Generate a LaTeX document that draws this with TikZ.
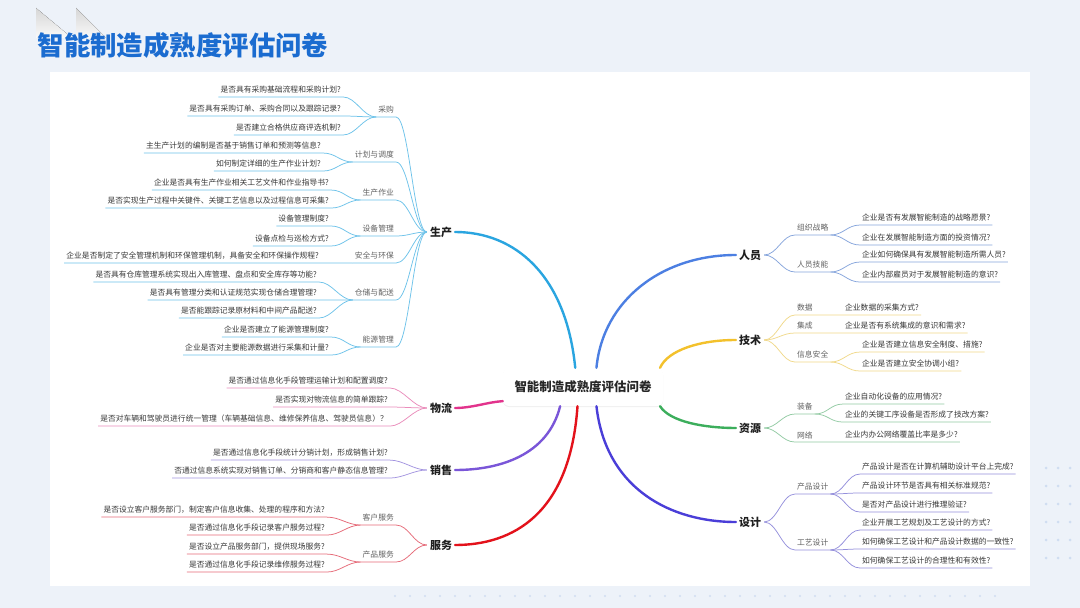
\documentclass[tikz,border=0pt]{standalone}
\usepackage{fontspec}
\newfontfamily\cjk{Noto Sans CJK SC}
\usetikzlibrary{shadows}
\definecolor{bgc}{HTML}{EDF2F9}
\definecolor{ttl}{HTML}{1B6CD0}
\definecolor{dotc}{HTML}{CFDDF1}
\definecolor{cyB}{HTML}{2AA5E0}\definecolor{cyL}{HTML}{6EC3EA}
\definecolor{mgB}{HTML}{E2338C}\definecolor{mgL}{HTML}{EA8DBB}
\definecolor{puB}{HTML}{7A56D8}\definecolor{puL}{HTML}{A394E0}
\definecolor{rdB}{HTML}{E3121B}\definecolor{rdL}{HTML}{E66A78}
\definecolor{blB}{HTML}{4C7FE2}\definecolor{blL}{HTML}{86A5DC}
\definecolor{ywB}{HTML}{F3C12C}\definecolor{ywL}{HTML}{F1D98A}
\definecolor{gnB}{HTML}{3CAE5C}\definecolor{gnL}{HTML}{93CBA4}
\definecolor{inB}{HTML}{4A3ED8}\definecolor{inL}{HTML}{9590DC}

\begin{document}
\begin{tikzpicture}[
  x=1bp, y=-1bp,
  leaf/.style={font=\cjk\fontsize{7.8}{9}\selectfont, text=black!78, inner xsep=2bp, inner ysep=3.2bp},
  sub/.style={leaf, text=black!62},
  topic/.style={font=\cjk\bfseries\fontsize{11}{13}\selectfont, text=black!88, inner sep=3bp},
  root/.style={font=\cjk\bfseries\fontsize{12.5}{15}\selectfont, text=black!85, fill=white,
               rounded corners=6bp, minimum width=160bp, minimum height=38bp,
               drop shadow={opacity=0.12, shadow xshift=0bp, shadow yshift=-1bp}},
  br/.style={line width=2.4pt, line cap=round},
  ln/.style={line width=0.75pt},
  lcv/.style={to path={.. controls +(-13,0) and +(13,0) .. (\tikztotarget)}},
  rcv/.style={to path={.. controls +(13,0) and +(-13,0) .. (\tikztotarget)}}
]
\useasboundingbox (0,0) rectangle (1080,608);
\fill[bgc] (0,0) rectangle (1080,608);
\fill[white] (50,72) rectangle (1030,586);
\fill[top color=black!16, bottom color=black!2] (36,8) -- (72,38) -- (36,38) -- cycle;
\fill[top color=black!16, bottom color=black!2] (76,8) -- (106,38) -- (76,38) -- cycle;
\foreach \i in {0,...,5} \foreach \j in {0,...,2} \fill[dotc] (1046+\j*12,468+\i*18) circle (1.5);
\foreach \i in {0,...,40} \fill[dotc] (395+\i*15,596) circle (1.2);

\node[font=\cjk\bfseries\fontsize{26.5}{30}\selectfont, text=ttl] (title) at (183,45) {智能制造成熟度评估问卷};

\node[root] (ctr) at (583,387) {智能制造成熟度评估问卷};

\node[topic] (pro) at (441,232) {生产};
\node[topic] (wl) at (441,408) {物流};
\node[topic] (xs) at (441,470) {销售};
\node[topic] (fw) at (441,545) {服务};
\node[topic] (ry) at (750,255) {人员};
\node[topic] (js) at (750,340) {技术};
\node[topic] (zyu) at (750,428) {资源};
\node[topic] (sj) at (750,522) {设计};

\node[sub, anchor=east] (cg) at (396,110) {采购};
\node[sub, anchor=east] (jh) at (396,155) {计划与调度};
\node[sub, anchor=east] (zy) at (396,193) {生产作业};
\node[sub, anchor=east] (sb) at (396,229) {设备管理};
\node[sub, anchor=east] (aq) at (396,256) {安全与环保};
\node[sub, anchor=east] (cc) at (396,293) {仓储与配送};
\node[sub, anchor=east] (ny) at (396,340) {能源管理};
\node[sub, anchor=east] (kf) at (396,518) {客户服务};
\node[sub, anchor=east] (cpf) at (396,555) {产品服务};

\node[leaf, anchor=east] (c1) at (343,90) {是否具有采购基础流程和采购计划?};
\node[leaf, anchor=east] (c2) at (343,109) {是否具有采购订单、采购合同以及跟踪记录?};
\node[leaf, anchor=east] (c3) at (343,128) {是否建立合格供应商评选机制?};
\node[leaf, anchor=east] (j1) at (323,146) {主生产计划的编制是否基于销售订单和预测等信息?};
\node[leaf, anchor=east] (j2) at (323,164) {如何制定详细的生产作业计划?};
\node[leaf, anchor=east] (z1) at (331,183) {企业是否具有生产作业相关工艺文件和作业指导书?};
\node[leaf, anchor=east] (z2) at (331,201) {是否实现生产过程中关键件、关键工艺信息以及过程信息可采集?};
\node[leaf, anchor=east] (b1) at (331,219) {设备管理制度?};
\node[leaf, anchor=east] (b2) at (331,239) {设备点检与巡检方式?};
\node[leaf, anchor=east] (a1) at (321,256) {企业是否制定了安全管理机制和环保管理机制，具备安全和环保操作规程?};
\node[leaf, anchor=east] (k1) at (319,275) {是否具有仓库管理系统实现出入库管理、盘点和安全库存等功能?};
\node[leaf, anchor=east] (k2) at (319,293) {是否具有管理分类和认证规范实现仓储合理管理?};
\node[leaf, anchor=east] (k3) at (319,311) {是否能跟踪记录原材料和中间产品配送?};
\node[leaf, anchor=east] (n1) at (331,330) {企业是否建立了能源管理制度?};
\node[leaf, anchor=east] (n2) at (331,348) {企业是否对主要能源数据进行采集和计量?};

\node[leaf, anchor=east] (w1) at (390,381) {是否通过信息化手段管理运输计划和配置调度?};
\node[leaf, anchor=east] (w2) at (390,400) {是否实现对物流信息的简单跟踪?};
\node[leaf, anchor=east] (w3) at (390,419) {是否对车辆和驾驶员进行统一管理（车辆基础信息、维修保养信息、驾驶员信息）？};
\node[leaf, anchor=east] (x1) at (390,453) {是否通过信息化手段统计分销计划，形成销售计划?};
\node[leaf, anchor=east] (x2) at (390,471) {否通过信息系统实现对销售订单、分销商和客户静态信息管理?};
\node[leaf, anchor=east] (f1) at (327,510) {是否设立客户服务部门，制定客户信息收集、处理的程序和方法?};
\node[leaf, anchor=east] (f2) at (327,528) {是否通过信息化手段记录客户服务过程?};
\node[leaf, anchor=east] (f3) at (327,547) {是否设立产品服务部门，提供现场服务?};
\node[leaf, anchor=east] (f4) at (327,565) {是否通过信息化手段记录维修服务过程?};

\node[sub, anchor=west] (zl) at (795,228) {组织战略};
\node[sub, anchor=west] (rj) at (795,265) {人员技能};
\node[sub, anchor=west] (sjd) at (795,308) {数据};
\node[sub, anchor=west] (jc) at (795,326) {集成};
\node[sub, anchor=west] (xa) at (795,355) {信息安全};
\node[sub, anchor=west] (zb) at (795,407) {装备};
\node[sub, anchor=west] (wg) at (795,435) {网络};
\node[sub, anchor=west] (cpd) at (795,487) {产品设计};
\node[sub, anchor=west] (gy) at (795,543) {工艺设计};

\node[leaf, anchor=west] (r1) at (860,218) {企业是否有发展智能制造的战略愿景?};
\node[leaf, anchor=west] (r2) at (860,238) {企业在发展智能制造方面的投资情况?};
\node[leaf, anchor=west] (r3) at (860,255) {企业如何确保具有发展智能制造所需人员?};
\node[leaf, anchor=west] (r4) at (860,275) {企业内部雇员对于发展智能制造的意识?};
\node[leaf, anchor=west] (t1) at (843,308) {企业数据的采集方式?};
\node[leaf, anchor=west] (t2) at (843,326) {企业是否有系统集成的意识和需求?};
\node[leaf, anchor=west] (t3) at (860,345) {企业是否建立信息安全制度、措施?};
\node[leaf, anchor=west] (t4) at (860,364) {企业是否建立安全协调小组?};
\node[leaf, anchor=west] (y1) at (843,397) {企业自动化设备的应用情况?};
\node[leaf, anchor=west] (y2) at (843,415) {企业的关键工序设备是否形成了技改方案?};
\node[leaf, anchor=west] (y3) at (843,435) {企业内办公网络覆盖比率是多少?};
\node[leaf, anchor=west] (d1) at (860,467) {产品设计是否在计算机辅助设计平台上完成?};
\node[leaf, anchor=west] (d2) at (860,486) {产品设计环节是否具有相关标准规范?};
\node[leaf, anchor=west] (d3) at (860,505) {是否对产品设计进行推理验证?};
\node[leaf, anchor=west] (d4) at (860,523) {企业开展工艺规划及工艺设计的方式?};
\node[leaf, anchor=west] (d5) at (860,542) {如何确保工艺设计和产品设计数据的一致性?};
\node[leaf, anchor=west] (d6) at (860,561) {如何确保工艺设计的合理性和有效性?};

\draw[br, cyB] (ctr.112) .. controls (566,275) and (515,232) .. (pro.east);
\draw[br, mgB] (ctr.190) .. controls (488,402) and (472,408) .. (wl.east);
\draw[br, puB] (ctr.220) .. controls (548,455) and (500,470) .. (xs.east);
\draw[br, rdB] (ctr.254) .. controls (570,515) and (512,545) .. (fw.east);
\draw[br, blB] (ctr.55) .. controls (603,300) and (662,255) .. (ry.west);
\draw[br, ywB] (ctr.14) .. controls (668,350) and (700,340) .. (js.west);
\draw[br, gnB] (ctr.346) .. controls (670,422) and (705,428) .. (zyu.west);
\draw[br, inB] (ctr.305) .. controls (606,490) and (672,522) .. (sj.west);

\draw[ln, cyL] (pro.west) to[lcv] (cg.south east) -- (cg.south west);
\draw[ln, cyL] (pro.west) to[lcv] (jh.south east) -- (jh.south west);
\draw[ln, cyL] (pro.west) to[lcv] (zy.south east) -- (zy.south west);
\draw[ln, cyL] (pro.west) to[lcv] (sb.south east) -- (sb.south west);
\draw[ln, cyL] (pro.west) to[lcv] (aq.south east) -- (aq.south west);
\draw[ln, cyL] (pro.west) to[lcv] (cc.south east) -- (cc.south west);
\draw[ln, cyL] (pro.west) to[lcv] (ny.south east) -- (ny.south west);
\draw[ln, cyL] (cg.south west) to[lcv] (c1.south east) -- (c1.south west);
\draw[ln, cyL] (cg.south west) to[lcv] (c2.south east) -- (c2.south west);
\draw[ln, cyL] (cg.south west) to[lcv] (c3.south east) -- (c3.south west);
\draw[ln, cyL] (jh.south west) to[lcv] (j1.south east) -- (j1.south west);
\draw[ln, cyL] (jh.south west) to[lcv] (j2.south east) -- (j2.south west);
\draw[ln, cyL] (zy.south west) to[lcv] (z1.south east) -- (z1.south west);
\draw[ln, cyL] (zy.south west) to[lcv] (z2.south east) -- (z2.south west);
\draw[ln, cyL] (sb.south west) to[lcv] (b1.south east) -- (b1.south west);
\draw[ln, cyL] (sb.south west) to[lcv] (b2.south east) -- (b2.south west);
\draw[ln, cyL] (aq.south west) -- (a1.south east) -- (a1.south west);
\draw[ln, cyL] (cc.south west) to[lcv] (k1.south east) -- (k1.south west);
\draw[ln, cyL] (cc.south west) to[lcv] (k2.south east) -- (k2.south west);
\draw[ln, cyL] (cc.south west) to[lcv] (k3.south east) -- (k3.south west);
\draw[ln, cyL] (ny.south west) to[lcv] (n1.south east) -- (n1.south west);
\draw[ln, cyL] (ny.south west) to[lcv] (n2.south east) -- (n2.south west);

\draw[ln, mgL] (wl.west) to[lcv] (w1.south east) -- (w1.south west);
\draw[ln, mgL] (wl.west) to[lcv] (w2.south east) -- (w2.south west);
\draw[ln, mgL] (wl.west) to[lcv] (w3.south east) -- (w3.south west);
\draw[ln, puL] (xs.west) to[lcv] (x1.south east) -- (x1.south west);
\draw[ln, puL] (xs.west) to[lcv] (x2.south east) -- (x2.south west);
\draw[ln, rdL] (fw.west) to[lcv] (kf.south east) -- (kf.south west);
\draw[ln, rdL] (fw.west) to[lcv] (cpf.south east) -- (cpf.south west);
\draw[ln, rdL] (kf.south west) to[lcv] (f1.south east) -- (f1.south west);
\draw[ln, rdL] (kf.south west) to[lcv] (f2.south east) -- (f2.south west);
\draw[ln, rdL] (cpf.south west) to[lcv] (f3.south east) -- (f3.south west);
\draw[ln, rdL] (cpf.south west) to[lcv] (f4.south east) -- (f4.south west);

\draw[ln, blL] (ry.east) to[rcv] (zl.south west) -- (zl.south east);
\draw[ln, blL] (ry.east) to[rcv] (rj.south west) -- (rj.south east);
\draw[ln, blL] (zl.south east) to[rcv] (r1.south west) -- (r1.south east);
\draw[ln, blL] (zl.south east) to[rcv] (r2.south west) -- (r2.south east);
\draw[ln, blL] (rj.south east) to[rcv] (r3.south west) -- (r3.south east);
\draw[ln, blL] (rj.south east) to[rcv] (r4.south west) -- (r4.south east);

\draw[ln, ywL] (js.east) to[rcv] (sjd.south west) -- (sjd.south east) -- (t1.south west) -- (t1.south east);
\draw[ln, ywL] (js.east) to[rcv] (jc.south west) -- (jc.south east) -- (t2.south west) -- (t2.south east);
\draw[ln, ywL] (js.east) to[rcv] (xa.south west) -- (xa.south east);
\draw[ln, ywL] (xa.south east) to[rcv] (t3.south west) -- (t3.south east);
\draw[ln, ywL] (xa.south east) to[rcv] (t4.south west) -- (t4.south east);

\draw[ln, gnL] (zyu.east) to[rcv] (zb.south west) -- (zb.south east);
\draw[ln, gnL] (zyu.east) to[rcv] (wg.south west) -- (wg.south east) -- (y3.south west) -- (y3.south east);
\draw[ln, gnL] (zb.south east) to[rcv] (y1.south west) -- (y1.south east);
\draw[ln, gnL] (zb.south east) to[rcv] (y2.south west) -- (y2.south east);

\draw[ln, inL] (sj.east) to[rcv] (cpd.south west) -- (cpd.south east);
\draw[ln, inL] (sj.east) to[rcv] (gy.south west) -- (gy.south east);
\draw[ln, inL] (cpd.south east) to[rcv] (d1.south west) -- (d1.south east);
\draw[ln, inL] (cpd.south east) to[rcv] (d2.south west) -- (d2.south east);
\draw[ln, inL] (cpd.south east) to[rcv] (d3.south west) -- (d3.south east);
\draw[ln, inL] (gy.south east) to[rcv] (d4.south west) -- (d4.south east);
\draw[ln, inL] (gy.south east) to[rcv] (d5.south west) -- (d5.south east);
\draw[ln, inL] (gy.south east) to[rcv] (d6.south west) -- (d6.south east);
\end{tikzpicture}
\end{document}
